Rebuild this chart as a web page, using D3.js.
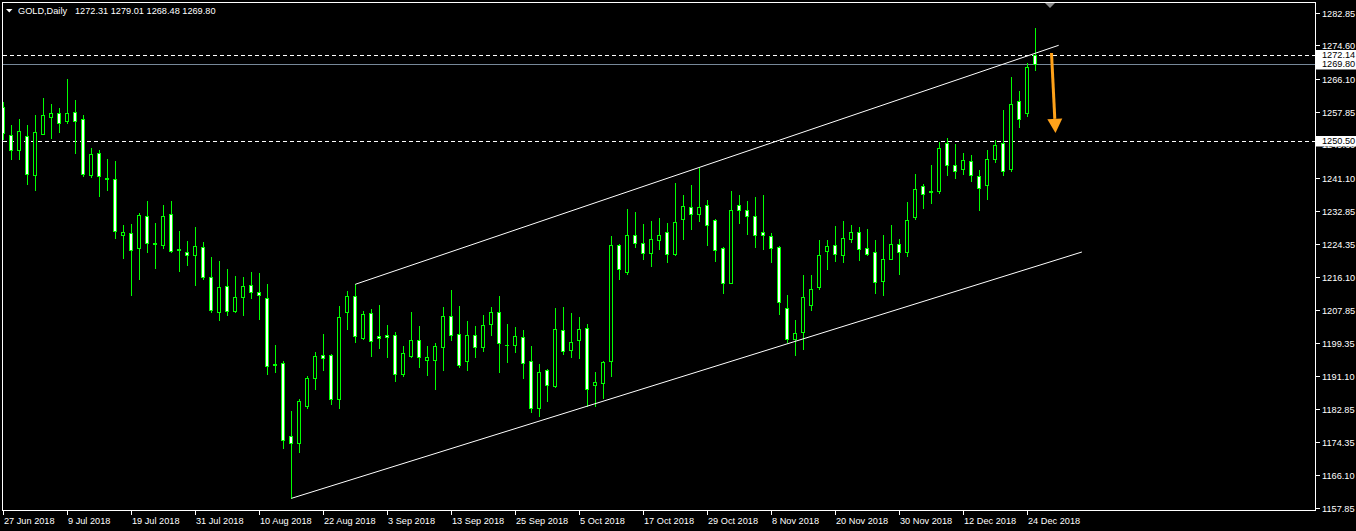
<!DOCTYPE html>
<html><head><meta charset="utf-8">
<script src="https://cdnjs.cloudflare.com/ajax/libs/d3/7.8.5/d3.min.js"></script>
<style>
html,body{margin:0;padding:0;background:#000;}
svg{display:block;}
text{font-family:"Liberation Sans",Arial,sans-serif;font-size:9.2px;}
</style></head><body>
<script>
const symbolTitle = "GOLD,Daily";
const dates = [
"2018-06-27","2018-06-28","2018-06-29",
"2018-07-02","2018-07-03","2018-07-04","2018-07-05","2018-07-06","2018-07-09","2018-07-10","2018-07-11","2018-07-12","2018-07-13","2018-07-16","2018-07-17","2018-07-18","2018-07-19","2018-07-20","2018-07-23","2018-07-24","2018-07-25","2018-07-26","2018-07-27","2018-07-30","2018-07-31",
"2018-08-01","2018-08-02","2018-08-03","2018-08-06","2018-08-07","2018-08-08","2018-08-09","2018-08-10","2018-08-13","2018-08-14","2018-08-15","2018-08-16","2018-08-17","2018-08-20","2018-08-21","2018-08-22","2018-08-23","2018-08-24","2018-08-27","2018-08-28","2018-08-29","2018-08-30","2018-08-31",
"2018-09-03","2018-09-04","2018-09-05","2018-09-06","2018-09-07","2018-09-10","2018-09-11","2018-09-12","2018-09-13","2018-09-14","2018-09-17","2018-09-18","2018-09-19","2018-09-20","2018-09-21","2018-09-24","2018-09-25","2018-09-26","2018-09-27","2018-09-28",
"2018-10-01","2018-10-02","2018-10-03","2018-10-04","2018-10-05","2018-10-08","2018-10-09","2018-10-10","2018-10-11","2018-10-12","2018-10-15","2018-10-16","2018-10-17","2018-10-18","2018-10-19","2018-10-22","2018-10-23","2018-10-24","2018-10-25","2018-10-26","2018-10-29","2018-10-30","2018-10-31",
"2018-11-01","2018-11-02","2018-11-05","2018-11-06","2018-11-07","2018-11-08","2018-11-09","2018-11-12","2018-11-13","2018-11-14","2018-11-15","2018-11-16","2018-11-19","2018-11-20","2018-11-21","2018-11-22","2018-11-23","2018-11-26","2018-11-27","2018-11-28","2018-11-29","2018-11-30",
"2018-12-03","2018-12-04","2018-12-05","2018-12-06","2018-12-07","2018-12-10","2018-12-11","2018-12-12","2018-12-13","2018-12-14","2018-12-17","2018-12-18","2018-12-19","2018-12-20","2018-12-21","2018-12-24","2018-12-26"
];
const open = [
1259.1,1252.0,1248.1,1251.8,1241.8,1252.3,1256.6,1257.6,1255.4,1257.8,
1256.1,1241.8,1247.5,1241.1,1240.9,1226.7,1227.2,1223.3,1231.5,1224.6,
1224.3,1232.0,1222.8,1222.4,1221.6,1223.7,1216.1,1207.3,1213.8,1207.5,
1211.0,1214.1,1212.3,1210.8,1193.9,1194.4,1175.9,1174.1,1183.4,1190.5,
1196.4,1196.4,1185.3,1207.2,1211.3,1200.6,1207.0,1201.2,1201.4,1201.4,
1191.7,1196.2,1200.2,1195.1,1195.1,1198.4,1206.2,1201.7,1194.9,1201.4,
1198.4,1204.2,1207.3,1199.0,1198.9,1200.9,1194.9,1183.0,1192.6,1188.5,
1202.7,1197.6,1200.2,1203.2,1188.8,1189.3,1194.9,1224.2,1217.3,1226.7,
1224.7,1222.2,1225.5,1227.5,1221.8,1230.8,1233.8,1232.0,1234.3,1230.5,
1223.4,1214.7,1234.3,1233.0,1231.5,1227.5,1226.5,1223.7,1208.3,1200.4,
1202.2,1209.0,1213.6,1222.7,1224.2,1221.7,1225.7,1227.5,1223.4,1222.4,
1215.1,1220.6,1224.4,1222.4,1231.2,1239.1,1237.6,1237.7,1250.0,1244.4,
1243.4,1245.4,1241.6,1239.4,1245.9,1250.0,1243.4,1260.6,1257.6,1272.31
];
const high = [
1260.4,1254.6,1255.9,1254.4,1257.1,1261.4,1259.9,1258.9,1266.2,1260.7,
1257.1,1248.8,1248.3,1245.8,1245.3,1229.3,1229.6,1232.3,1235.4,1229.8,
1234.4,1235.4,1227.6,1225.3,1228.8,1225.0,1221.2,1220.2,1218.2,1216.4,
1216.2,1217.4,1217.2,1214.2,1199.0,1194.9,1182.3,1185.3,1191.1,1197.2,
1201.8,1196.7,1208.8,1212.6,1214.2,1207.5,1208.1,1209.1,1204.0,1202.2,
1198.7,1207.3,1203.8,1198.7,1199.5,1208.5,1212.9,1208.8,1205.1,1203.8,
1206.6,1208.6,1211.4,1204.3,1203.5,1202.8,1198.7,1194.2,1192.8,1208.3,
1208.6,1207.1,1206.1,1204.3,1192.1,1194.9,1226.5,1224.5,1233.4,1232.6,
1229.6,1230.3,1231.1,1229.8,1239.9,1236.9,1239.4,1243.7,1235.6,1230.8,
1223.6,1237.7,1236.7,1235.4,1236.2,1236.7,1227.2,1224.0,1211.6,1205.2,
1216.7,1216.6,1225.5,1225.5,1229.0,1230.3,1229.3,1228.7,1228.2,1225.5,
1226.7,1229.2,1225.7,1235.1,1242.2,1239.6,1244.5,1250.3,1251.1,1249.7,
1247.5,1247.0,1243.2,1248.2,1250.6,1258.4,1266.7,1263.0,1270.2,1279.01
];
const low = [
1250.9,1246.0,1246.0,1239.7,1238.0,1252.1,1251.3,1252.8,1254.9,1247.3,
1241.5,1241.3,1236.5,1238.2,1225.9,1221.0,1211.5,1215.7,1222.3,1218.3,
1223.3,1222.3,1217.5,1219.0,1214.0,1215.7,1207.3,1205.3,1206.6,1207.3,
1206.5,1210.8,1205.6,1191.7,1192.0,1173.0,1160.2,1171.8,1182.9,1187.7,
1192.7,1183.9,1183.1,1203.0,1199.6,1200.3,1196.2,1198.2,1195.8,1189.7,
1191.0,1195.9,1193.4,1191.4,1187.7,1192.7,1200.1,1193.3,1192.7,1196.0,
1197.5,1201.4,1192.0,1194.5,1197.1,1190.5,1182.0,1181.0,1184.8,1188.3,
1196.6,1196.0,1195.6,1183.4,1183.4,1185.5,1191.2,1215.7,1216.8,1223.7,
1220.6,1218.8,1223.2,1220.0,1221.7,1225.7,1228.2,1230.3,1224.3,1220.1,
1212.1,1214.5,1229.8,1226.9,1223.6,1223.1,1220.0,1206.7,1199.7,1196.3,
1197.9,1207.8,1213.1,1218.1,1220.1,1219.9,1224.9,1220.4,1221.7,1212.0,
1211.5,1220.6,1216.8,1221.3,1230.7,1233.5,1234.7,1237.2,1241.8,1241.0,
1242.0,1240.3,1232.9,1235.7,1245.2,1241.8,1242.9,1254.0,1256.8,1268.48
];
const close = [
1252.5,1248.1,1253.0,1242.0,1252.8,1257.1,1257.6,1255.0,1257.6,1255.4,
1242.0,1247.2,1241.5,1240.9,1227.6,1227.5,1222.8,1231.8,1224.6,1224.4,
1231.5,1222.6,1223.2,1221.7,1223.9,1216.1,1207.8,1213.6,1207.5,1211.0,
1213.8,1212.3,1211.6,1193.6,1194.1,1174.9,1174.1,1184.8,1190.6,1196.1,
1195.5,1185.3,1206.0,1211.4,1201.1,1206.7,1199.9,1200.6,1200.9,1191.5,
1196.9,1200.2,1195.9,1195.9,1198.7,1206.2,1201.4,1193.9,1201.4,1198.4,
1204.0,1207.3,1199.4,1198.9,1201.2,1194.4,1183.0,1192.1,1188.8,1203.0,
1197.4,1199.7,1203.0,1187.8,1189.6,1194.6,1224.2,1218.1,1226.7,1224.7,
1222.2,1225.7,1226.7,1221.9,1230.0,1234.1,1232.0,1233.8,1229.3,1222.9,
1214.6,1233.0,1233.0,1231.5,1226.7,1226.7,1223.4,1209.8,1200.4,1201.9,
1211.0,1213.1,1221.7,1223.9,1221.9,1226.0,1227.5,1223.2,1221.9,1214.8,
1220.7,1224.4,1222.4,1230.5,1238.4,1237.1,1237.8,1248.7,1244.4,1242.9,
1245.7,1241.9,1238.6,1245.9,1249.5,1242.9,1259.8,1256.1,1269.2,1269.80
];
const priceTicks = [1282.85,1274.60,1266.10,1257.85,1249.60,1241.10,1232.85,1224.35,1216.10,1207.85,1199.35,1191.10,1182.85,1174.35,1166.10,1157.85];
const dateTicks = ["2018-06-27","2018-07-09","2018-07-19","2018-07-31","2018-08-10","2018-08-22","2018-09-03","2018-09-13","2018-09-25","2018-10-05","2018-10-17","2018-10-29","2018-11-08","2018-11-20","2018-11-30","2018-12-12","2018-12-24"];
const dashedLevels = [1272.14, 1250.50];
const bidPrice = 1269.80;
// trend channel anchors: [bar index, price]
const upperTrend = [[43.98, 1214.25], [131.9, 1274.64]];
const lowerTrend = [[36.0, 1160.17], [134.8, 1222.41]];
const arrowPts = [[131.0, 1272.7], [131.5, 1252.5]];

const W = 1356, H = 531;
const LIME = "#00ff00";
const svg = d3.select("body").append("svg").attr("width", W).attr("height", H)
  .style("background", "#000");

const x = d3.scaleLinear().domain([0, dates.length - 1]).range([3.5, 3.5 + 8 * (dates.length - 1)]);
const y = d3.scaleLinear().domain([1157.85, 1282.85]).range([507.5, 12.8]);
const parse = d3.timeParse("%Y-%m-%d");
const fmtDate = d3.timeFormat("%-d %b %Y");

svg.append("defs").append("clipPath").attr("id", "plot")
  .append("rect").attr("x", 3).attr("y", 3).attr("width", 1312).attr("height", 507);

const plot = svg.append("g").attr("clip-path", "url(#plot)");

// horizontal levels
plot.selectAll("line.lvl").data(dashedLevels).join("line").attr("class", "lvl")
  .attr("x1", 3).attr("x2", 1315)
  .attr("y1", d => Math.round(y(d)) + 0.5).attr("y2", d => Math.round(y(d)) + 0.5)
  .attr("stroke", "#fff").attr("stroke-width", 1).attr("stroke-dasharray", "4,3");
plot.append("line")
  .attr("x1", 3).attr("x2", 1315)
  .attr("y1", Math.round(y(bidPrice)) + 0.5).attr("y2", Math.round(y(bidPrice)) + 0.5)
  .attr("stroke", "#778899").attr("stroke-width", 1);

// candles
const candles = dates.map((d, i) => ({ i, o: open[i], h: high[i], l: low[i], c: close[i] }));
const cg = plot.append("g");
candles.forEach(d => {
  const cx = Math.floor(x(d.i));
  cg.append("line")
    .attr("x1", cx + 0.5).attr("x2", cx + 0.5)
    .attr("y1", Math.round(y(d.h))).attr("y2", Math.round(y(d.l)) + 1)
    .attr("stroke", LIME).attr("stroke-width", 1);
  const top = Math.round(y(Math.max(d.o, d.c)));
  const bot = Math.round(y(Math.min(d.o, d.c)));
  if (bot - top < 1) {
    cg.append("line")
      .attr("x1", cx - 2).attr("x2", cx + 2)
      .attr("y1", top + 0.5).attr("y2", top + 0.5)
      .attr("stroke", LIME).attr("stroke-width", 1);
  } else {
    cg.append("rect")
      .attr("x", cx - 1.5).attr("y", top + 0.5)
      .attr("width", 3).attr("height", bot - top)
      .attr("fill", d.c < d.o ? "#fff" : "#000")
      .attr("stroke", LIME).attr("stroke-width", 1);
  }
});

// trend channel
const ln = d3.line().x(p => x(p[0])).y(p => y(p[1]));
[upperTrend, lowerTrend].forEach(t => {
  plot.append("path").attr("d", ln(t)).attr("fill", "none")
    .attr("stroke", "#fff").attr("stroke-width", 1);
});

// orange arrow
const a0 = [x(arrowPts[0][0]), y(arrowPts[0][1])];
const a1 = [x(arrowPts[1][0]), y(arrowPts[1][1])];
const ang = Math.atan2(a1[1] - a0[1], a1[0] - a0[0]);
const headL = 14, headW = 7.5;
const base = [a1[0] - headL * Math.cos(ang), a1[1] - headL * Math.sin(ang)];
const px = -Math.sin(ang), py = Math.cos(ang);
plot.append("line")
  .attr("x1", a0[0]).attr("y1", a0[1]).attr("x2", base[0]).attr("y2", base[1])
  .attr("stroke", "#ffa21a").attr("stroke-width", 3);
plot.append("path")
  .attr("d", `M${a1[0]},${a1[1]}L${base[0] + px * headW},${base[1] + py * headW}L${base[0] - px * headW},${base[1] - py * headW}Z`)
  .attr("fill", "#ffa21a");

// chart shift marker
svg.append("path").attr("d", "M1044,2L1056,2L1050,8Z").attr("fill", "#8a8a8a");

// frame
svg.append("rect").attr("x", 2.5).attr("y", 2.5).attr("width", 1313).attr("height", 508)
  .attr("fill", "none").attr("stroke", "#fff").attr("stroke-width", 1);

// right price axis
const ra = svg.append("g");
priceTicks.forEach(v => {
  const yy = Math.round(y(v)) + 0.5;
  ra.append("line").attr("x1", 1316).attr("x2", 1320).attr("y1", yy).attr("y2", yy)
    .attr("stroke", "#fff").attr("stroke-width", 1);
  ra.append("text").attr("x", 1322).attr("y", yy).attr("dy", "0.36em")
    .attr("fill", "#fff").text(v.toFixed(2));
});
// price labels (boxes)
[...dashedLevels, bidPrice].forEach(v => {
  const yy = y(v);
  ra.append("rect").attr("x", 1316).attr("y", Math.round(yy) - 5).attr("width", 40).attr("height", 10.5)
    .attr("fill", "#fff");
});
[...dashedLevels, bidPrice].forEach(v => {
  const yy = y(v);
  ra.append("text").attr("x", 1322).attr("y", Math.round(yy)).attr("dy", "0.36em")
    .attr("fill", "#000").text(v.toFixed(2));
});

// bottom time axis
const ba = svg.append("g");
dateTicks.forEach(dt => {
  const i = dates.indexOf(dt);
  const xx = Math.floor(x(i)) + 0.5;
  ba.append("line").attr("x1", xx).attr("x2", xx).attr("y1", 511).attr("y2", 515)
    .attr("stroke", "#fff").attr("stroke-width", 1);
  ba.append("text").attr("x", xx + 0.5).attr("y", 523.5).attr("fill", "#fff")
    .text(fmtDate(parse(dt)));
});

// header
const li = dates.length - 1;
svg.append("path").attr("d", "M6,9L12.5,9L9.25,12.5Z").attr("fill", "#fff");
svg.append("text").attr("x", 18).attr("y", 14).attr("fill", "#fff").text(symbolTitle);
svg.append("text").attr("x", 75).attr("y", 14).attr("fill", "#fff")
  .text([open[li], high[li], low[li], close[li]].map(v => v.toFixed(2)).join(" "));
</script>
</body></html>
